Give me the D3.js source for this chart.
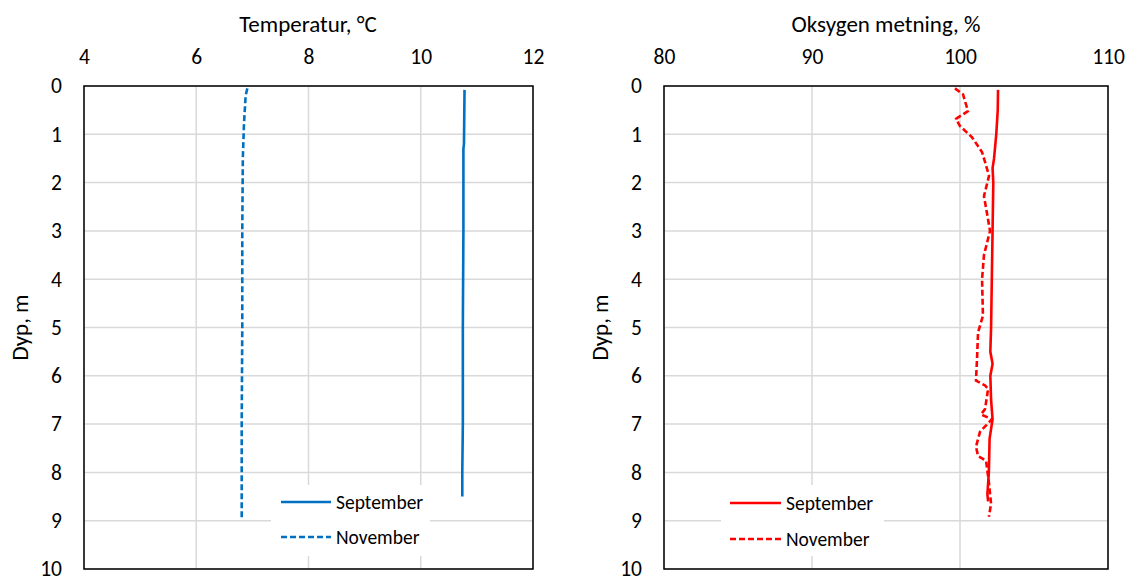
<!DOCTYPE html>
<html>
<head>
<meta charset="utf-8">
<script src="https://cdn.jsdelivr.net/npm/d3@7"></script>
<style>
  body { margin: 0; background: #fff; }
  svg text { font-family: Carlito, Calibri, Lato, sans-serif; fill: #000; }
</style>
</head>
<body>
<script>
// depth axis (shared)
const depthTicks = [0, 1, 2, 3, 4, 5, 6, 7, 8, 9, 10]
const tempTicks = [4, 6, 8, 10, 12]
const oxyTicks = [80, 90, 100, 110]
const seriesNames = ["September", "November"]

// temperature profiles
const tempSepDepth = [0.08, 1.2, 1.3, 3.0, 5.0, 7.0, 8.0, 8.5]
const tempSepValue = [10.78, 10.77, 10.76, 10.76, 10.75, 10.75, 10.74, 10.74]
const tempNovDepth = [0.05, 0.2, 0.8, 1.5, 3.0, 5.0, 7.0, 8.95]
const tempNovValue = [6.91, 6.88, 6.85, 6.83, 6.82, 6.82, 6.81, 6.81]

// oxygen saturation profiles
const oxySepDepth = [0.08, 0.5, 1.0, 1.5, 1.7, 2.0, 3.0, 4.0, 5.0, 5.5, 5.75, 6.0, 6.5, 6.9, 7.3, 8.0, 8.45, 8.6]
const oxySepValue = [102.57, 102.55, 102.45, 102.3, 102.2, 102.25, 102.2, 102.15, 102.1, 102.05, 102.2, 102.05, 102.1, 102.2, 102.0, 101.95, 101.85, 101.9]
const oxyNovDepth = [0.05, 0.17, 0.52, 0.68, 0.83, 1.06, 1.37, 1.57, 1.86, 2.28, 3.0, 3.5, 4.0, 4.76, 5.1, 5.65, 6.1, 6.2, 6.27, 6.69, 6.8, 6.9, 7.16, 7.47, 7.66, 7.76, 8.2, 8.65, 8.92]
const oxyNovValue = [99.66, 100.2, 100.54, 99.73, 100.0, 100.81, 101.49, 101.69, 101.96, 101.62, 102.03, 101.62, 101.49, 101.55, 101.22, 101.15, 101.08, 101.69, 101.9, 101.69, 101.42, 102.16, 101.35, 101.08, 101.22, 101.76, 101.95, 102.1, 101.95]

const width = 1128, height = 579
const svg = d3.select("body").append("svg")
    .attr("width", width)
    .attr("height", height)

const panels = [
    {
        left: 84, right: 533, title: "Temperatur, °C", titleX: 308, ylabX: 28,
        domain: [4, 12], ticks: tempTicks, color: "#0070C0",
        series: [[tempSepDepth, tempSepValue], [tempNovDepth, tempNovValue]],
        legend: { x0: 271, x1: 430, lineX0: 281, lineX1: 331, ys: [502, 537] }
    },
    {
        left: 664, right: 1108, title: "Oksygen metning, %", titleX: 886, ylabX: 608,
        domain: [80, 110], ticks: oxyTicks, color: "#FF0000",
        series: [[oxySepDepth, oxySepValue], [oxyNovDepth, oxyNovValue]],
        legend: { x0: 721, x1: 884, lineX0: 730, lineX1: 781, ys: [503, 539] }
    }
]

const plotTop = 86, plotBottom = 569
const y = d3.scaleLinear().domain([0, 10]).range([plotTop, plotBottom])

panels.forEach(p => {
    const x = d3.scaleLinear().domain(p.domain).range([p.left, p.right])
    const g = svg.append("g")

    // gridlines
    g.append("g").selectAll("line").data(p.ticks).join("line")
        .attr("x1", d => x(d)).attr("x2", d => x(d))
        .attr("y1", plotTop).attr("y2", plotBottom)
        .attr("stroke", "#d9d9d9").attr("stroke-width", 1.5)
    g.append("g").selectAll("line").data(depthTicks).join("line")
        .attr("x1", p.left).attr("x2", p.right)
        .attr("y1", d => y(d)).attr("y2", d => y(d))
        .attr("stroke", "#d9d9d9").attr("stroke-width", 1.5)

    // axes (labels only)
    const xa = g.append("g")
        .attr("transform", `translate(0,${plotTop})`)
        .call(d3.axisTop(x).tickValues(p.ticks).tickSize(0).tickPadding(22).tickFormat(d3.format("d")))
    xa.select(".domain").remove()
    xa.attr("font-family", null).attr("font-size", 21.5)

    const ya = g.append("g")
        .attr("transform", `translate(${p.left},0)`)
        .call(d3.axisLeft(y).tickValues(depthTicks).tickSize(0).tickPadding(22).tickFormat(d3.format("d")))
    ya.select(".domain").remove()
    ya.attr("font-family", null).attr("font-size", 21.5)

    // titles
    g.append("text")
        .attr("x", p.titleX).attr("y", 32)
        .attr("text-anchor", "middle")
        .attr("font-size", 23)
        .text(p.title)
    g.append("text")
        .attr("transform", `translate(${p.ylabX},${(plotTop + plotBottom) / 2}) rotate(-90)`)
        .attr("text-anchor", "middle")
        .attr("font-size", 23)
        .text("Dyp, m")

    // series
    const line = d3.line()
        .x(d => x(d[1]))
        .y(d => y(d[0]))
    p.series.forEach((s, i) => {
        const pts = s[0].map((d, j) => [d, s[1][j]])
        g.append("path")
            .datum(pts)
            .attr("d", line)
            .attr("fill", "none")
            .attr("stroke", p.color)
            .attr("stroke-width", 2.6)
            .attr("stroke-linejoin", "round")
            .attr("stroke-dasharray", i === 1 ? "6,3" : null)
    })

    // plot border
    g.append("rect")
        .attr("x", p.left).attr("y", plotTop)
        .attr("width", p.right - p.left).attr("height", plotBottom - plotTop)
        .attr("fill", "none").attr("stroke", "#000").attr("stroke-width", 1.5)

    // legend
    const L = p.legend
    g.append("rect")
        .attr("x", L.x0).attr("y", 485)
        .attr("width", L.x1 - L.x0).attr("height", 71)
        .attr("fill", "#fff")
    seriesNames.forEach((name, i) => {
        g.append("line")
            .attr("x1", L.lineX0).attr("x2", L.lineX1)
            .attr("y1", L.ys[i]).attr("y2", L.ys[i])
            .attr("stroke", p.color).attr("stroke-width", 2.6)
            .attr("stroke-dasharray", i === 1 ? "6,3" : null)
        g.append("text")
            .attr("x", L.lineX1 + 5).attr("y", L.ys[i])
            .attr("dy", "0.35em")
            .attr("font-size", 19.5)
            .text(name)
    })
})
</script>
</body>
</html>
